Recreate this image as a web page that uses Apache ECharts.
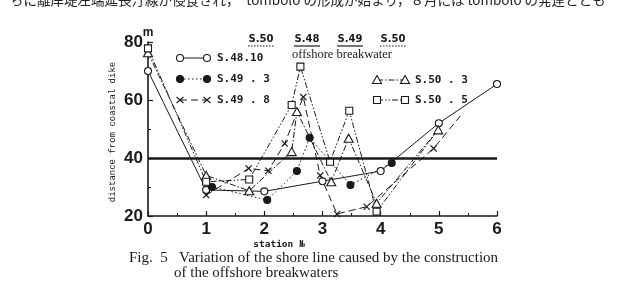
<!DOCTYPE html>
<html>
<head>
<meta charset="utf-8">
<script src="https://cdn.jsdelivr.net/npm/echarts@6.0.0/dist/echarts.min.js"></script>
<style>
  html, body { margin: 0; padding: 0; background: #fff; }
  #chart { width: 625px; height: 300px; }
</style>
</head>
<body>
<div id="chart"></div>
<script>
// station No (x) / distance from coastal dike in m (y)
const s48_10 = [[0, 70], [1, 29], [2, 28.5], [3, 32], [4, 35.5], [5, 52], [6, 65.5]];
const s49_3 = [[1.1, 30], [2.05, 25.5], [2.56, 35.5], [2.78, 47], [3.48, 30.7], [4.19, 38.3]];
const s49_8 = [[1, 27.2], [1.73, 36.4], [2.07, 35.6], [2.35, 45], [2.67, 61], [2.96, 34], [3.25, 20.7], [3.76, 23.2], [4.91, 43.3]];
const s49_8Tail = [[5.37, 54.5]];
const s50_3 = [[0, 76.3], [1, 34], [1.74, 28.7], [2.47, 42.2], [2.56, 56], [3.15, 31.8], [3.45, 46.8], [3.93, 24.4], [4.99, 49.7]];
const s50_5 = [[0, 77.8], [1, 31.8], [1.74, 32.6], [2.47, 58.3], [2.62, 71.5], [3.13, 38.7], [3.46, 56.3], [3.93, 21.5]];
const s50_5Tail = [[4.98, 49.5]];
// thick reference line
const baseLine = 40;
const xTicks = [0, 1, 2, 3, 4, 5, 6];
const yTicks = [20, 40, 60, 80];

const ink = "#1a1a1a";
const crossPath = "path://M0,1.2L1.2,0L5,3.8L8.8,0L10,1.2L6.2,5L10,8.8L8.8,10L5,6.2L1.2,10L0,8.8L3.8,5Z";

const chart = echarts.init(document.getElementById("chart"));

const mkSeries = (name, pts, tail, symbol, size, fill, dash) => {
  const data = pts.map(p => p.slice());
  tail.forEach(p => data.push({ value: p.slice(), symbol: "none" }));
  return {
    name: name,
    type: "line",
    data: data,
    symbol: symbol,
    symbolSize: size,
    showAllSymbol: true,
    lineStyle: { color: ink, width: 1, type: dash },
    itemStyle: { color: fill, borderColor: ink, borderWidth: 1.1 },
    z: 3
  };
};

// legend drawn by hand: symbol - line - symbol, then text
const legendItem = (x1, x2, y, kind, dash, text) => {
  const els = [{
    type: "line",
    shape: { x1: x1, y1: y, x2: x2, y2: y },
    style: { stroke: ink, lineWidth: 1, lineDash: dash }
  }];
  [x1, x2].forEach(cx => {
    if (kind === "circle" || kind === "dot") {
      els.push({ type: "circle", shape: { cx: cx, cy: y, r: 3.5 }, style: { fill: kind === "dot" ? ink : "#fff", stroke: ink, lineWidth: 1.1 } });
    } else if (kind === "tri") {
      els.push({ type: "polygon", shape: { points: [[cx, y - 4.5], [cx + 4.5, y + 3.5], [cx - 4.5, y + 3.5]] }, style: { fill: "#fff", stroke: ink, lineWidth: 1.1 } });
    } else if (kind === "rect") {
      els.push({ type: "rect", shape: { x: cx - 3.5, y: y - 3.5, width: 7, height: 7 }, style: { fill: "#fff", stroke: ink, lineWidth: 1.1 } });
    } else {
      els.push({ type: "line", shape: { x1: cx - 3.5, y1: y - 3, x2: cx + 3.5, y2: y + 3 }, style: { stroke: ink, lineWidth: 1.1 } });
      els.push({ type: "line", shape: { x1: cx - 3.5, y1: y + 3, x2: cx + 3.5, y2: y - 3 }, style: { stroke: ink, lineWidth: 1.1 } });
    }
  });
  els.push({ type: "text", x: x2 + 10, y: y, style: { text: text, font: "bold 11px 'DejaVu Sans Mono'", fill: ink, verticalAlign: "middle" } });
  return els;
};

const yearLabel = (x, text, dotted) => [
  { type: "text", x: x, y: 39, style: { text: text, font: "bold 10px 'DejaVu Sans'", fill: ink, align: "center", verticalAlign: "middle" } },
  { type: "line", shape: { x1: x - 13, y1: 46, x2: x + 13, y2: 46 }, style: { stroke: ink, lineWidth: 1.2, lineDash: dotted ? [1.5, 1.5] : null } }
];

const graphics = [].concat(
  [{ type: "text", x: 10, y: 0, style: { text: "ちに離岸堤左端延長汀線が侵食され，　tombolo の形成が始まり，８月には tombolo の発達ととも", font: "13.5px 'Noto Sans CJK JP'", fill: "#222", verticalAlign: "middle" } }],
  legendItem(180, 207, 58, "circle", null, "S.48.10"),
  legendItem(180, 207, 79, "dot", [1.5, 2.5], "S.49 . 3"),
  legendItem(180, 207, 100, "cross", [7, 4], "S.49 . 8"),
  legendItem(377, 405, 80, "tri", [6, 2, 1.5, 2], "S.50 . 3"),
  legendItem(377, 405, 100, "rect", [6, 2, 1.5, 2, 1.5, 2], "S.50 . 5"),
  yearLabel(261, "S.50", true),
  yearLabel(307, "S.48", false),
  yearLabel(350, "S.49", false),
  yearLabel(393, "S.50", true),
  [
    { type: "text", x: 342, y: 55, style: { text: "offshore breakwater", font: "12.5px 'Liberation Serif'", fill: ink, align: "center", verticalAlign: "middle" } },
    { type: "text", x: 148, y: 33, style: { text: "m", font: "bold 12px 'Liberation Sans'", fill: ink, align: "center", verticalAlign: "middle" } },
    { type: "text", x: 113, y: 132, rotation: Math.PI / 2, style: { text: "distance from coastal dike", font: "9px 'Liberation Mono'", fill: ink, align: "center", verticalAlign: "middle" } },
    { type: "text", x: 279, y: 245, style: { text: "station №", font: "bold 9.5px 'DejaVu Sans Mono'", fill: ink, align: "center", verticalAlign: "middle" } },
    { type: "text", x: 129, y: 258, style: { text: "Fig.  5   Variation of the shore line caused by the construction", font: "15px 'Liberation Serif'", fill: ink, verticalAlign: "middle" } },
    { type: "text", x: 174, y: 273, style: { text: "of the offshore breakwaters", font: "15px 'Liberation Serif'", fill: ink, verticalAlign: "middle" } }
  ]
);

const axisCommon = {
  splitLine: { show: false },
  axisLine: { show: true, lineStyle: { color: ink, width: 1.6 } },
  axisTick: { show: true, inside: true, length: 5, lineStyle: { color: ink, width: 1.2 } },
  minorTick: { show: true, splitNumber: 2, length: 3, lineStyle: { color: ink, width: 1 } },
  axisLabel: { color: ink, fontFamily: "Liberation Sans", fontWeight: "bold", fontSize: 17, margin: 5 }
};

const option = {
  backgroundColor: "#fff",
  animation: false,
  grid: { left: 148, right: 128, top: 42, bottom: 84 },
  xAxis: Object.assign({
    type: "value",
    min: xTicks[0],
    max: xTicks[xTicks.length - 1],
    interval: 1
  }, axisCommon),
  yAxis: Object.assign({
    type: "value",
    min: yTicks[0],
    max: yTicks[yTicks.length - 1],
    interval: 20
  }, axisCommon),
  graphic: graphics,
  series: [
    Object.assign(mkSeries("S.48.10", s48_10, [], "circle", 7, "#fff", "solid"), {
      markLine: {
        silent: true,
        symbol: "none",
        label: { show: false },
        lineStyle: { color: ink, width: 2.6, type: "solid" },
        data: [{ yAxis: baseLine }]
      }
    }),
    mkSeries("S.49.3", s49_3, [], "circle", 7, ink, [1.5, 2.5]),
    Object.assign(mkSeries("S.49.8", s49_8, s49_8Tail, crossPath, 7, ink, [7, 4]), { itemStyle: { color: ink, borderWidth: 0 } }),
    mkSeries("S.50.3", s50_3, [], "triangle", [9, 8], "#fff", [6, 2, 1.5, 2]),
    mkSeries("S.50.5", s50_5, s50_5Tail, "rect", 7, "#fff", [6, 2, 1.5, 2, 1.5, 2])
  ]
};

chart.setOption(option);
</script>
</body>
</html>
